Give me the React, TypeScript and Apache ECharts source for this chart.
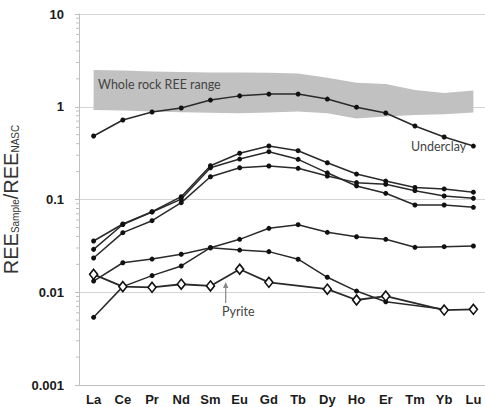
import React, { useEffect, useRef } from "react";
import * as echarts from "echarts";

const categories = ["La", "Ce", "Pr", "Nd", "Sm", "Eu", "Gd", "Tb", "Dy", "Ho", "Er", "Tm", "Yb", "Lu"];
const yTickLabels: Record<string, string> = { "0.001": "0.001", "0.01": "0.01", "0.1": "0.1", "1": "1", "10": "10" };

// Whole rock REE range band
const bandUpper = [2.49, 2.46, 2.4, 2.37, 2.34, 2.34, 2.33, 2.28, 2.05, 1.82, 1.76, 1.52, 1.41, 1.5];
const bandLower = [0.923, 0.911, 0.889, 0.873, 0.863, 0.85, 0.867, 0.889, 0.85, 0.747, 0.785, 0.815, 0.829, 0.867];

const underclay = [0.484, 0.72, 0.877, 0.97, 1.18, 1.31, 1.37, 1.37, 1.21, 0.99, 0.856, 0.62, 0.472, 0.377];
const sampleA = [0.0357, 0.0544, 0.0739, 0.1072, 0.2314, 0.315, 0.3775, 0.336, 0.249, 0.188, 0.158, 0.135, 0.13, 0.12];
const sampleB = [0.029, 0.0538, 0.0733, 0.101, 0.22, 0.273, 0.328, 0.271, 0.194, 0.14, 0.1166, 0.0873, 0.0873, 0.0824];
const sampleC = [0.0234, 0.0439, 0.0591, 0.0924, 0.176, 0.22, 0.2298, 0.217, 0.179, 0.152, 0.146, 0.1244, 0.109, 0.103];
const sampleD = [0.0132, 0.0208, 0.0228, 0.0257, 0.0302, 0.0372, 0.0489, 0.0535, 0.0443, 0.0397, 0.0372, 0.0305, 0.031, 0.0315];
const sampleE = [0.00537, 0.0115, 0.0151, 0.0192, 0.0302, 0.0285, 0.0274, 0.0227, 0.0145, 0.0103, 0.0079, null, 0.00655, null];
const pyrite = [0.0156, 0.0115, 0.0113, 0.0122, 0.0117, 0.0177, 0.0128, null, 0.0108, 0.00825, 0.0091, null, 0.00643, 0.00655];

const minorTickValues = [
  0.002, 0.003, 0.004, 0.005, 0.006, 0.007, 0.008, 0.009,
  0.02, 0.03, 0.04, 0.05, 0.06, 0.07, 0.08, 0.09,
  0.2, 0.3, 0.4, 0.5, 0.6, 0.7, 0.8, 0.9,
  2, 3, 4, 5, 6, 7, 8, 9,
];

const LINE = "#2a2a2a";
const NOTE_FONT = "Lato, 'Open Sans', sans-serif";

function lineSeries(name: string, data: (number | null)[]) {
  return {
    name,
    type: "line",
    data,
    connectNulls: true,
    symbol: "circle",
    symbolSize: 5,
    itemStyle: { color: "#111" },
    lineStyle: { color: LINE, width: 1.5 },
    z: 3,
  };
}

export default function App() {
  const ref = useRef<HTMLDivElement>(null);
  useEffect(() => {
    if (!ref.current) return;
    const chart = echarts.init(ref.current, null, { renderer: "svg" });
    const option = {
      animation: false,
      grid: { left: 79, top: 14, width: 409, height: 371, containLabel: false, outerBoundsMode: "none" },
      xAxis: {
        type: "category",
        data: categories,
        boundaryGap: true,
        axisLine: { lineStyle: { color: "#bfbfbf", width: 1 } },
        axisTick: { inside: true, length: 4, lineStyle: { color: "#bfbfbf" } },
        axisLabel: {
          margin: 8,
          fontFamily: "'Liberation Sans', Arial, sans-serif",
          fontWeight: "bold",
          fontSize: 13,
          color: "#1a1a1a",
        },
        splitLine: { show: false },
      },
      yAxis: {
        type: "log",
        logBase: 10,
        min: 0.001,
        max: 10,
        axisLine: { show: true, lineStyle: { color: "#bfbfbf", width: 1 } },
        axisTick: { show: true, inside: false, length: 4, lineStyle: { color: "#bfbfbf" } },
        axisLabel: {
          margin: 15,
          fontFamily: "'Liberation Sans', Arial, sans-serif",
          fontWeight: "bold",
          fontSize: 13,
          color: "#1a1a1a",
          formatter: (v: number) => {
            const k = String(+v.toPrecision(3));
            return yTickLabels[k] ?? k;
          },
        },
        splitLine: { show: true, lineStyle: { color: "#d4d4d4", width: 1 } },
        name: "{a|REE}{b|Sample}{a|/REE}{b|NASC}",
        nameLocation: "middle",
        nameRotate: 90,
        nameGap: 47,
        nameTextStyle: {
          rich: {
            a: { fontFamily: "'Liberation Sans', Arial, sans-serif", fontSize: 20, color: "#333", lineHeight: 24, verticalAlign: "bottom" },
            b: { fontFamily: "'Liberation Sans', Arial, sans-serif", fontSize: 10, color: "#333", lineHeight: 20, verticalAlign: "bottom" },
          },
        },
      },
      series: [
        {
          type: "custom",
          name: "Whole rock REE range",
          coordinateSystem: "cartesian2d",
          data: categories.map((c, i) => [i, bandLower[i], bandUpper[i]]),
          encode: { x: 0, y: [1, 2] },
          z: 1,
          silent: true,
          renderItem: (params: any, api: any) => {
            if (params.dataIndex !== 0) return null;
            const pts: number[][] = [];
            for (let i = 0; i < categories.length; i++) pts.push(api.coord([i, bandUpper[i]]));
            for (let i = categories.length - 1; i >= 0; i--) pts.push(api.coord([i, bandLower[i]]));
            return { type: "polygon", shape: { points: pts }, style: { fill: "#c1c1c1" } };
          },
        },
        {
          type: "custom",
          name: "minor ticks",
          coordinateSystem: "cartesian2d",
          clip: false,
          silent: true,
          data: minorTickValues.map((v) => [0, v]),
          encode: { x: 0, y: 1 },
          z: 2,
          renderItem: (params: any, api: any) => {
            const p = api.coord([0, api.value(1)]);
            const x0 = params.coordSys.x;
            return {
              type: "line",
              shape: { x1: x0 - 3, y1: p[1], x2: x0, y2: p[1] },
              style: { stroke: "#bfbfbf", lineWidth: 1 },
            };
          },
        },
        lineSeries("Underclay", underclay),
        lineSeries("A", sampleA),
        lineSeries("B", sampleB),
        lineSeries("C", sampleC),
        lineSeries("D", sampleD),
        lineSeries("E", sampleE),
        {
          name: "Pyrite",
          type: "line",
          data: pyrite,
          connectNulls: true,
          symbol: "diamond",
          symbolSize: [8, 10],
          itemStyle: { color: "#ffffff", borderColor: "#111", borderWidth: 1.6 },
          lineStyle: { color: LINE, width: 1.8 },
          z: 4,
        },
      ],
      graphic: [
        {
          type: "text",
          left: 98,
          top: 78,
          style: { text: "Whole rock REE range", font: `12.5px ${NOTE_FONT}`, fill: "#444" },
          z: 10,
        },
        {
          type: "text",
          left: 411,
          top: 140,
          style: { text: "Underclay", font: `12.5px ${NOTE_FONT}`, fill: "#444" },
          z: 10,
        },
        {
          type: "text",
          left: 222,
          top: 305,
          style: { text: "Pyrite", font: `12.5px ${NOTE_FONT}`, fill: "#444" },
          z: 10,
        },
        {
          type: "line",
          shape: { x1: 225.7, y1: 284, x2: 225.7, y2: 303 },
          style: { stroke: "#888", lineWidth: 1.2 },
          z: 10,
        },
        {
          type: "polygon",
          shape: { points: [[225.7, 282], [223, 288], [228.4, 288]] },
          style: { fill: "#888" },
          z: 10,
        },
      ],
    };
    chart.setOption(option as any);
    return () => chart.dispose();
  }, []);
  return (
    <div
      ref={ref}
      style={{ position: "absolute", left: 0, top: 0, width: 485, height: 407, background: "#fff" }}
    />
  );
}
